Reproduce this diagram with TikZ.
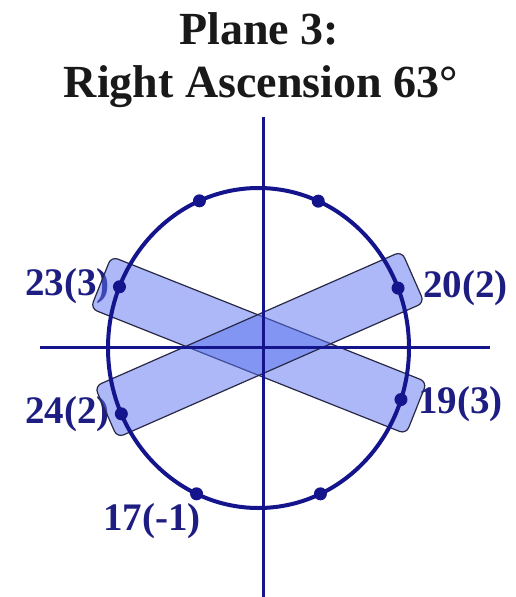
\documentclass[tikz,border=0pt]{standalone}
\usepackage{fontspec}
\setmainfont{Liberation Serif}
\usetikzlibrary{calc}
\definecolor{navy}{RGB}{20,20,140}
\definecolor{labnavy}{RGB}{30,30,130}
\definecolor{bandfill}{RGB}{90,115,240}
\definecolor{bandedge}{RGB}{40,40,70}
\begin{document}
\begin{tikzpicture}[x=1pt,y=-1pt,
  titlestyle/.style={font=\fontsize{46}{50}\selectfont\bfseries, text=black!90, inner sep=0pt, anchor=base},
  lab/.style={font=\fontsize{39}{40}\selectfont\bfseries, text=labnavy, inner sep=0pt, anchor=base west},
  band/.style={fill=bandfill, fill opacity=0.5, draw=bandedge, draw opacity=1, line width=1.2pt, rounded corners=7pt},
  axisline/.style={draw=navy, line width=3pt},
  orbit/.style={draw=navy, line width=4pt},
  dot/.style={circle, fill=navy, inner sep=0pt, minimum size=13pt}]
\useasboundingbox (0,0) rectangle (516,597);
\fill[white] (0,0) rectangle (516,597);
% title
\node[titlestyle] (t1) at (259,44) {Plane 3:};
\node[titlestyle] (t2) at (261,97) {Right Ascension 63°};
% labels
\node[lab] (l23) at (25,295) {23(3)};
\node[lab] (l24) at (25,423) {24(2)};
\node[lab] (l20) at (423,297) {20(2)};
\node[lab] (l19) at (418,413) {19(3)};
\node[lab] (l17) at (103,530) {17(-1)};
% bands
\coordinate (a1) at (101,282.5);
\coordinate (b1) at (416.5,408);
\coordinate (a2) at (106,412);
\coordinate (b2) at (413,277);
\draw[band] ($(a1)!28pt!90:(b1)$) -- ($(b1)!28pt!-90:(a1)$) -- ($(b1)!28pt!90:(a1)$) -- ($(a1)!28pt!-90:(b1)$) -- cycle;
\draw[band] ($(a2)!28pt!90:(b2)$) -- ($(b2)!28pt!-90:(a2)$) -- ($(b2)!28pt!90:(a2)$) -- ($(a2)!28pt!-90:(b2)$) -- cycle;
% orbit and axes
\coordinate (C) at (258.5,348);
\draw[orbit] (C) ellipse [x radius=150.5, y radius=160];
\coordinate (hl) at (40,347);
\coordinate (hr) at (490,347);
\coordinate (vt) at (263,117);
\coordinate (vb) at (263,597);
\draw[axisline] (hl) -- (hr);
\draw[axisline] (vt) -- (vb);
% dots
\node[dot] (d1) at ([shift={(246.9:150.5 and 160)}]C) {};
\node[dot] (d2) at ([shift={(293.4:150.5 and 160)}]C) {};
\node[dot] (d23) at ([shift={(202.5:150.5 and 160)}]C) {};
\node[dot] (d20) at ([shift={(338:150.5 and 160)}]C) {};
\node[dot] (d24) at ([shift={(155.7:150.5 and 160)}]C) {};
\node[dot] (d19) at ([shift={(18.8:150.5 and 160)}]C) {};
\node[dot] (d17) at ([shift={(114.3:150.5 and 160)}]C) {};
\node[dot] (d3) at ([shift={(65.7:150.5 and 160)}]C) {};
\end{tikzpicture}
\end{document}
